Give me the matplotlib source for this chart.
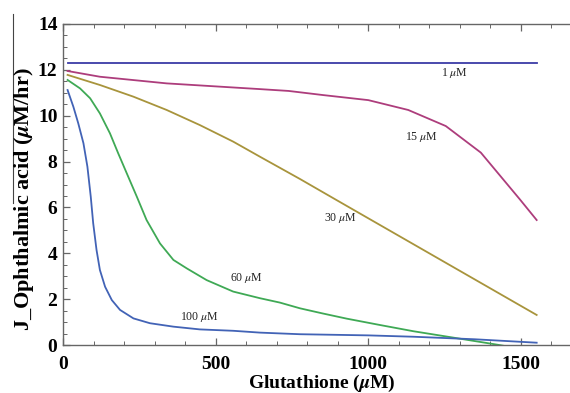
import matplotlib
matplotlib.use("Agg")
import matplotlib.pyplot as plt
from matplotlib.lines import Line2D
from matplotlib.ticker import MultipleLocator

plt.rcParams['font.family'] = ['Liberation Serif', 'DejaVu Serif']
plt.rcParams['mathtext.fontset'] = 'stix'

# ---- data ----
x_1uM = [15, 1553]
y_1uM = [12.28, 12.28]

x_15uM = [15, 121, 340, 646, 740, 853, 1001, 1132, 1255, 1370, 1498, 1553]
y_15uM = [11.95, 11.7, 11.41, 11.16, 11.08, 10.9, 10.68, 10.25, 9.55, 8.39, 6.35, 5.45]

x_30uM = [15, 121, 231, 340, 449, 558, 646, 777, 897, 1553]
y_30uM = [11.78, 11.34, 10.83, 10.25, 9.59, 8.87, 8.21, 7.24, 6.32, 1.31]

x_60uM = [15, 56, 89, 121, 154, 181, 209, 242, 274, 318, 362, 406, 471, 558, 646,
          711, 777, 850, 930, 1040, 1149, 1290, 1430, 1460]
y_60uM = [11.56, 11.19, 10.76, 10.1, 9.23, 8.36, 7.49, 6.47, 5.45, 4.43, 3.71, 3.34, 2.83, 2.33, 2.04,
          1.85, 1.6, 1.38, 1.15, 0.87, 0.6, 0.3, 0.0, -0.07]

x_100uM = [15, 34, 50, 67, 80, 91, 99, 110, 121, 138, 160, 187, 231, 285, 362, 449, 558,
           646, 777, 1000, 1150, 1350, 1553]
y_100uM = [11.12, 10.39, 9.67, 8.8, 7.78, 6.47, 5.31, 4.14, 3.27, 2.54, 1.96, 1.53, 1.16, 0.95, 0.8, 0.68, 0.62,
           0.54, 0.47, 0.42, 0.36, 0.25, 0.1]

series = [
    (x_1uM, y_1uM, '#3c3ca6'),
    (x_15uM, y_15uM, '#ad3d7c'),
    (x_30uM, y_30uM, '#a8943c'),
    (x_60uM, y_60uM, '#3fa955'),
    (x_100uM, y_100uM, '#4263b6'),
]

labels = ['1 $\\mu$M', '15 $\\mu$M', '30 $\\mu$M', '60 $\\mu$M', '100 $\\mu$M']
label_pos = [(1285, 11.87), (1176, 9.08), (911, 5.52), (602, 2.91), (447, 1.2)]

x_ticks = [0, 500, 1000, 1500]
y_ticks = [0, 2, 4, 6, 8, 10, 12, 14]

W, H = 570, 393
fig = plt.figure(figsize=(W / 100, H / 100), dpi=100)
x0px, x1px = 63, 581.5
y0px, y1px = 345, 24
ax = fig.add_axes([x0px / W, 1 - y0px / H, (x1px - x0px) / W, (y0px - y1px) / H])

for xs, ys, c in series:
    ax.plot(xs, ys, color=c, lw=1.3, solid_joinstyle='round')

for lab, (lx, ly) in zip(labels, label_pos):
    ax.text(lx, ly, lab, fontsize=8.5, ha='center', va='center', color='#222222')

ax.set_xlim(0, 1700)
ax.set_ylim(0, 14)
ax.set_xticks(x_ticks)
ax.set_yticks(y_ticks)
ax.xaxis.set_minor_locator(MultipleLocator(100))
ax.yaxis.set_minor_locator(MultipleLocator(0.5))

spine_c = '#666666'
for s in ax.spines.values():
    s.set_color(spine_c)
    s.set_linewidth(1.0)

ax.tick_params(which='both', direction='in', top=True, right=False, color=spine_c)
ax.tick_params(which='major', length=5, width=0.9)
ax.tick_params(which='minor', length=3, width=0.7)
ax.tick_params(axis='x', which='major', pad=8, labelsize=14)
ax.tick_params(axis='y', which='major', pad=4, labelsize=14)
for t in ax.get_xticklabels() + ax.get_yticklabels():
    t.set_fontweight('bold')

fig.text(322 / W, 1 - 383 / H, 'Glutathione ($\\mathbfit{\\mu}$M)', fontsize=14,
         fontweight='bold', ha='center', va='center')
fig.text(24 / W, 1 - 199 / H, 'J_Ophthalmic acid ($\\mathbfit{\\mu}$M/hr)', fontsize=16,
         fontweight='bold', ha='center', va='center', rotation=90)

# thin vertical rule at far left seen in the reference
fig.add_artist(Line2D([13 / W, 13 / W], [1 - 14 / H, 1 - 203 / H], color='#444444', lw=0.8))

fig.savefig('out.png', dpi=100)
